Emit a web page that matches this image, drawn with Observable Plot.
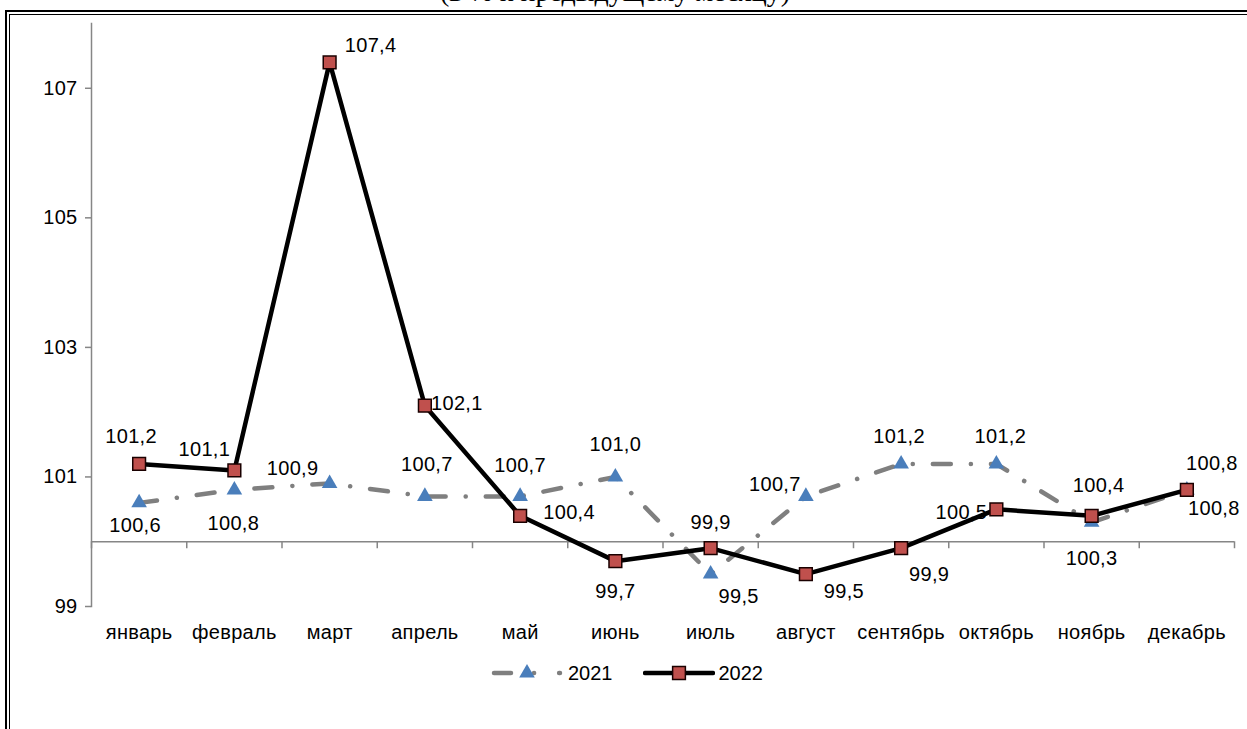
<!DOCTYPE html>
<html>
<head>
<meta charset="utf-8">
<script src="https://cdn.jsdelivr.net/npm/d3@7"></script>
<script src="https://cdn.jsdelivr.net/npm/@observablehq/plot@0.6"></script>
<style>
html, body { margin: 0; padding: 0; background: #fff; }
#wrap { position: relative; width: 1247px; height: 729px; overflow: hidden; background: #fff;
  font-family: "Liberation Sans", Arial, sans-serif; }
#frameOuter { position: absolute; left: 4.5px; top: 9.5px; width: 1400px; height: 900px;
  border: 2.5px solid #000; box-sizing: border-box; }
#frameInner { position: absolute; left: 9px; top: 13.5px; width: 1400px; height: 900px;
  border: 1.5px solid #000; box-sizing: border-box; }
#title { position: absolute; left: 0; width: 1230px; top: -22px; text-align: center;
  font-family: "Liberation Serif", "Times New Roman", serif; font-size: 28px; line-height: 28px; color: #000; white-space: nowrap; }
#chart { position: absolute; left: 0; top: 0; }
#legend { position: absolute; left: 0; top: 660px; width: 1254px; height: 26px; display: flex;
  justify-content: center; align-items: center; font-size: 20px; color: #000; }
#legend .item { display: flex; align-items: center; }
#legend svg { display: block; }
#chart text { letter-spacing: 0.3px; }
</style>
</head>
<body>
<div id="wrap">
  <div id="frameOuter"></div>
  <div id="frameInner"></div>
  <div id="title">(в % к предыдущему месяцу)</div>
  <div id="chart"></div>
  <div id="legend"></div>
</div>
<script>
// ---- data ----
const months = ["январь", "февраль", "март", "апрель", "май", "июнь", "июль", "август", "сентябрь", "октябрь", "ноябрь", "декабрь"];
const values2021 = [100.6, 100.8, 100.9, 100.7, 100.7, 101.0, 99.5, 100.7, 101.2, 101.2, 100.3, 100.8];
const values2022 = [101.2, 101.1, 107.4, 102.1, 100.4, 99.7, 99.9, 99.5, 99.9, 100.5, 100.4, 100.8];
const yTicks = [99, 101, 103, 105, 107];
const seriesNames = ["2021", "2022"];

// label offsets in pixels (layout only)
const labelOffsets2021 = [[-4, 23], [-1, 34], [-37, -15], [2, -32], [0, -31], [0, -32], [28, 22], [-31, -12], [-2, -27], [4, -27], [0, 36], [27, 19]];
const labelOffsets2022 = [[-8, -27], [-30, -21], [41, -17], [32, -2], [49, -3], [0, 30], [0, -26], [38, 17], [28, 26], [-35, 3], [7, -30], [25, -26]];

const fmt = v => v.toFixed(1).replace(".", ",");
const d2021 = values2021.map((v, i) => ({i, v}));
const d2022 = values2022.map((v, i) => ({i, v}));
const bounds = d3.range(months.length + 1).map(k => k - 0.5);

const gray = "#868686";
const lineGray = "#7f7f7f";
const blue = "#4a7ebb";
const red = "#c0504d";
const dash2021 = "18,20,0.1,20";
const FS = 20;

const labels2021 = d2021.map((d, k) => Plot.text([d], {x: "i", y: "v", text: d => fmt(d.v),
  dx: labelOffsets2021[k][0], dy: labelOffsets2021[k][1], fill: "#000", fontSize: FS}));
const labels2022 = d2022.map((d, k) => Plot.text([d], {x: "i", y: "v", text: d => fmt(d.v),
  dx: labelOffsets2022[k][0], dy: labelOffsets2022[k][1], fill: "#000", fontSize: FS}));

const chart = Plot.plot({
  width: 1247,
  height: 655,
  marginLeft: 91,
  marginRight: 13,
  marginTop: 23,
  marginBottom: 49,
  style: {fontFamily: "'Liberation Sans', Arial, sans-serif", fontSize: FS + "px", background: "transparent", color: "#000", overflow: "visible"},
  x: {domain: [-0.5, months.length - 0.5], axis: null},
  y: {domain: [99, 108], axis: null},
  marks: [
    Plot.frame({anchor: "left", stroke: gray, strokeWidth: 1.5}),
    Plot.axisY({ticks: yTicks, tickSize: 6, tickFormat: () => "", stroke: gray, strokeWidth: 1.5, label: null}),
    Plot.axisY({ticks: yTicks, tickSize: 0, tickPadding: 14, fontSize: FS, label: null}),
    Plot.axisX({ticks: d3.range(months.length), tickSize: 0, tickPadding: 18, tickFormat: i => months[i], fontSize: FS, label: null}),
    Plot.ruleY([100], {stroke: gray, strokeWidth: 1.5}),
    Plot.ruleX(bounds, {x: d => d, y1: 100, y2: 100, insetTop: 0, insetBottom: -7, stroke: gray, strokeWidth: 1.5}),
    Plot.line(d2021, {x: "i", y: "v", stroke: lineGray, strokeWidth: 4.5, strokeDasharray: dash2021, strokeLinecap: "round", strokeLinejoin: "round"}),
    Plot.dot(d2021, {x: "i", y: "v", symbol: "triangle", r: 5.8, fill: blue, stroke: "none"}),
    Plot.line(d2022, {x: "i", y: "v", stroke: "#000", strokeWidth: 4.5, strokeLinejoin: "round", strokeLinecap: "butt"}),
    Plot.dot(d2022, {x: "i", y: "v", symbol: "square", r: 7.2, fill: red, stroke: "#1a0000", strokeWidth: 1.5}),
    ...labels2021,
    ...labels2022
  ]
});
document.getElementById("chart").appendChild(chart);

// ---- legend ----
const legend = d3.select("#legend");
const item1 = legend.append("div").attr("class", "item");
const s1 = item1.append("svg").attr("width", 72).attr("height", 20);
s1.append("line").attr("x1", 3).attr("x2", 69).attr("y1", 10).attr("y2", 10)
  .attr("stroke", lineGray).attr("stroke-width", 4.5).attr("stroke-linecap", "round").attr("stroke-dasharray", "17,23,0.1,25");
s1.append("path").attr("d", d3.symbol(d3.symbolTriangle, Math.PI * 5.8 * 5.8)()).attr("transform", "translate(36,10)").attr("fill", blue);
item1.append("span").style("margin-left", "5px").text(seriesNames[0]);

const item2 = legend.append("div").attr("class", "item").style("margin-left", "30px");
const s2 = item2.append("svg").attr("width", 72).attr("height", 20);
s2.append("line").attr("x1", 2).attr("x2", 70).attr("y1", 10).attr("y2", 10)
  .attr("stroke", "#000").attr("stroke-width", 4.5).attr("stroke-linecap", "round");
s2.append("path").attr("d", d3.symbol(d3.symbolSquare, Math.PI * 7.2 * 7.2)()).attr("transform", "translate(36,10)")
  .attr("fill", red).attr("stroke", "#1a0000").attr("stroke-width", 1.5);
item2.append("span").style("margin-left", "4px").text(seriesNames[1]);
</script>
</body>
</html>
